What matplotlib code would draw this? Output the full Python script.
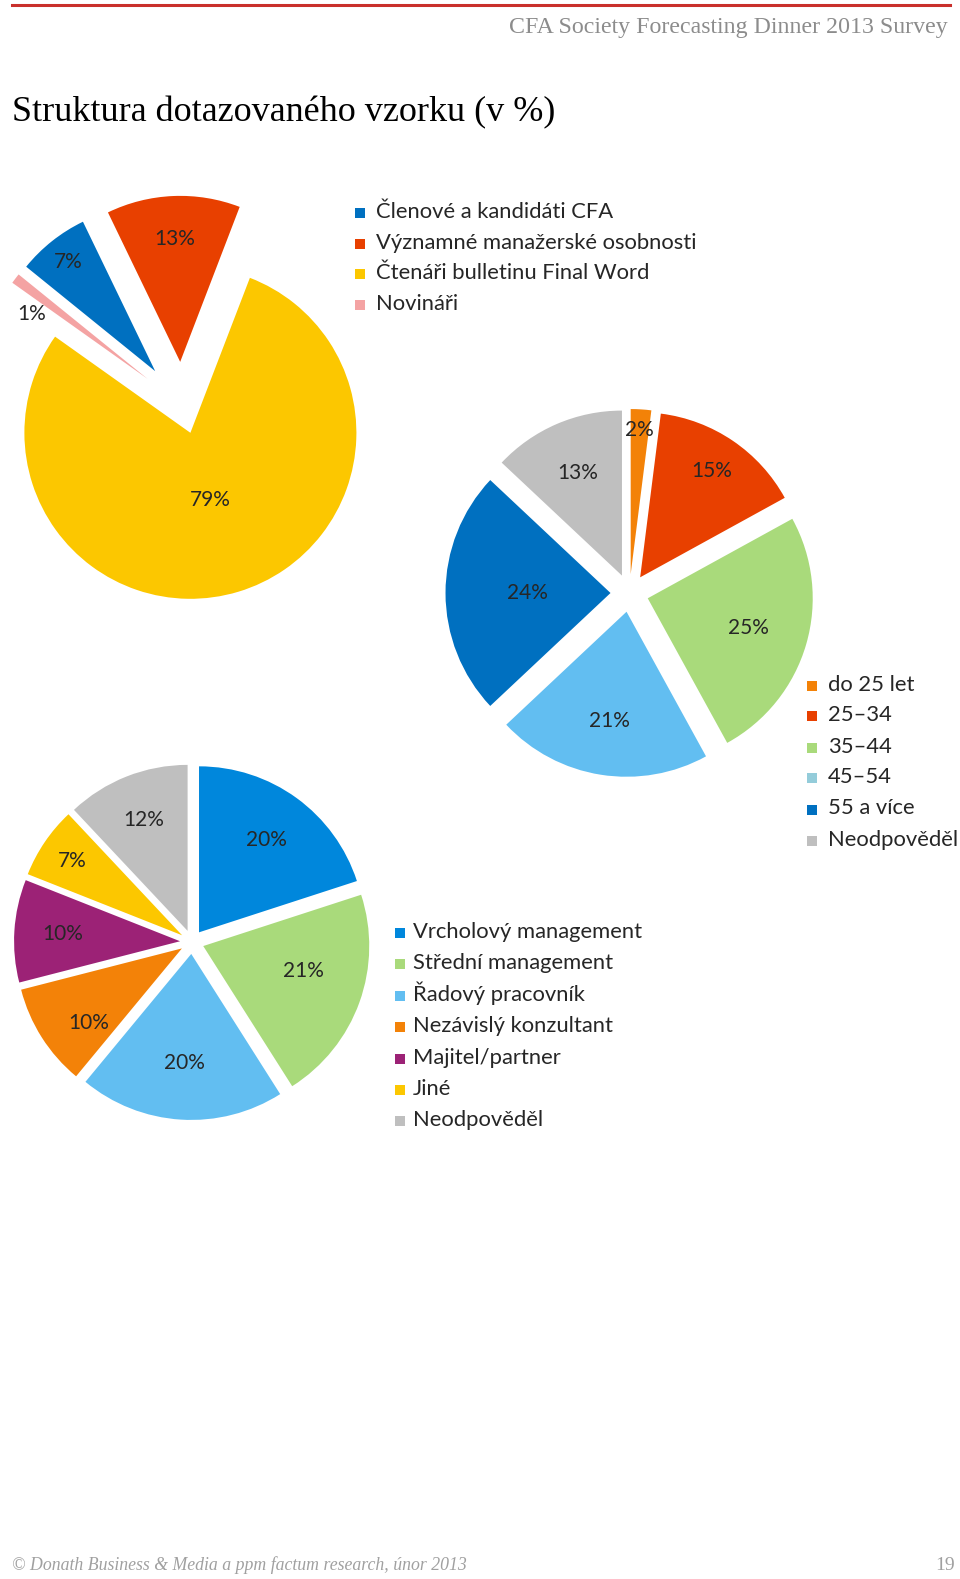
"""Struktura dotazovaného vzorku - three exploded pies, CFA survey page."""
import numpy as np
import matplotlib
matplotlib.use("Agg")
import matplotlib.pyplot as plt
from matplotlib.patches import Rectangle
from matplotlib.lines import Line2D

plt.rcParams["font.family"] = ["Lato", "DejaVu Sans"]

W, H = 960, 1579

# top pie: who was asked
group_labels = ["Členové a kandidáti CFA", "Významné manažerské osobnosti",
                "Čtenáři bulletinu Final Word", "Novináři"]
group_values = [7, 13, 79, 1]
group_colors = ["#0070C0", "#E84000", "#FCC700", "#F4A3A3"]

# right pie: age
age_labels = ["do 25 let", "25–34", "35–44", "45–54", "55 a více", "Neodpověděl"]
age_values = [2, 15, 25, 21, 24, 13]
age_colors = ["#F38208", "#E84000", "#A9DA7B", "#62BEF1", "#0070C0", "#BFBFBF"]
age_legend_colors = ["#F38208", "#E84000", "#A9DA7B", "#94CCDA", "#0070C0", "#BFBFBF"]

# bottom pie: position
pos_labels = ["Vrcholový management", "Střední management", "Řadový pracovník",
              "Nezávislý konzultant", "Majitel/partner", "Jiné", "Neodpověděl"]
pos_values = [20, 21, 20, 10, 10, 7, 12]
pos_colors = ["#0087DC", "#A9DA7B", "#62BEF1", "#F38208", "#9C2276", "#FCC700", "#BFBFBF"]

LABEL_FS = 15
LEGEND_FS = 15.8
TEXT_COLOR = "#262626"

fig = plt.figure(figsize=(W / 100, H / 100), dpi=100)


def draw_pie(values, colors, cx, cy, r, start, explode, label_dist, label_turn=None):
    # square axes centred on (cx, cy) px, one data unit = r px
    span = 1.6
    ax = fig.add_axes([(cx - span * r) / W, 1 - (cy + span * r) / H,
                       2 * span * r / W, 2 * span * r / H])
    wedges, _, autotexts = ax.pie(
        values, colors=colors, startangle=start, counterclock=False,
        explode=explode, autopct="%.0f%%", pctdistance=1.0,
        wedgeprops=dict(linewidth=0),
        textprops=dict(fontsize=LABEL_FS, color=TEXT_COLOR))
    if label_turn is None:
        label_turn = [0] * len(values)
    # Excel "best fit" puts each label at its own spot
    for w, t, d, turn in zip(wedges, autotexts, label_dist, label_turn):
        x0, y0 = w.center
        x, y = t.get_position()
        dx, dy = d * (x - x0), d * (y - y0)
        a = np.deg2rad(turn)
        t.set_position((x0 + dx * np.cos(a) - dy * np.sin(a),
                        y0 + dx * np.sin(a) + dy * np.cos(a)))
    ax.set_xlim(-span, span)
    ax.set_ylim(-span, span)
    ax.set_facecolor("none")
    ax.set_axis_off()
    return ax


def add_legend(labels, colors, x, y, pitch, size=10, gap=11):
    # x, y: left / bottom of the first square in px; text sits on the same baseline
    for i, (lab, col) in enumerate(zip(labels, colors)):
        yb = y + i * pitch
        fig.add_artist(Rectangle((x / W, 1 - yb / H), size / W, size / H,
                                 transform=fig.transFigure,
                                 facecolor=col, edgecolor="none"))
        fig.text((x + size + gap) / W, 1 - yb / H, lab, ha="left",
                 va="baseline", fontsize=LEGEND_FS, color=TEXT_COLOR)


draw_pie(group_values, group_colors, 182, 405, 166, 141,
         [0.26, 0.26, 0.175, 0.26], [0.84, 0.74, 0.42, 0.8], [0, 0, 0, 8])
draw_pie(age_values, age_colors, 629.5, 593, 165, 90,
         [0.115] * 6, [0.875, 0.776, 0.636, 0.67, 0.506, 0.68])
draw_pie(pos_values, pos_colors, 192, 942, 166, 90,
         [0.072] * 7, [0.69, 0.62, 0.66, 0.72, 0.71, 0.8, 0.72],
         [0, 6, 0, 6, 0, 0, 0])

add_legend(group_labels, group_colors, 355, 218, 30.6)
add_legend(age_labels, age_legend_colors, 807, 690.5, 31)
add_legend(pos_labels, pos_colors, 395, 938, 31.4, gap=8)

# page furniture
fig.add_artist(Line2D([12 / W, 950 / W], [1 - 5 / H, 1 - 5 / H],
                      color="#C9302C", linewidth=2.2))
fig.text(948 / W, 1 - 28 / H, "CFA Society Forecasting Dinner 2013 Survey",
         ha="right", va="center", fontsize=17.2, color="#8C8C8C",
         family="Liberation Serif")
fig.text(12 / W, 1 - 113 / H, "Struktura dotazovaného vzorku (v %)",
         ha="left", va="center", fontsize=26, color="black",
         family="Liberation Serif")
fig.text(12 / W, 1 - 1565 / H,
         "© Donath Business & Media a ppm factum research, únor 2013",
         ha="left", va="center", fontsize=12.8, color="#A0A0A0",
         family="Liberation Serif", style="italic")
fig.text(955 / W, 1 - 1565 / H, "19", ha="right", va="center",
         fontsize=14, color="#A0A0A0", family="Liberation Serif")

fig.savefig("out.png", dpi=100, facecolor="white")
